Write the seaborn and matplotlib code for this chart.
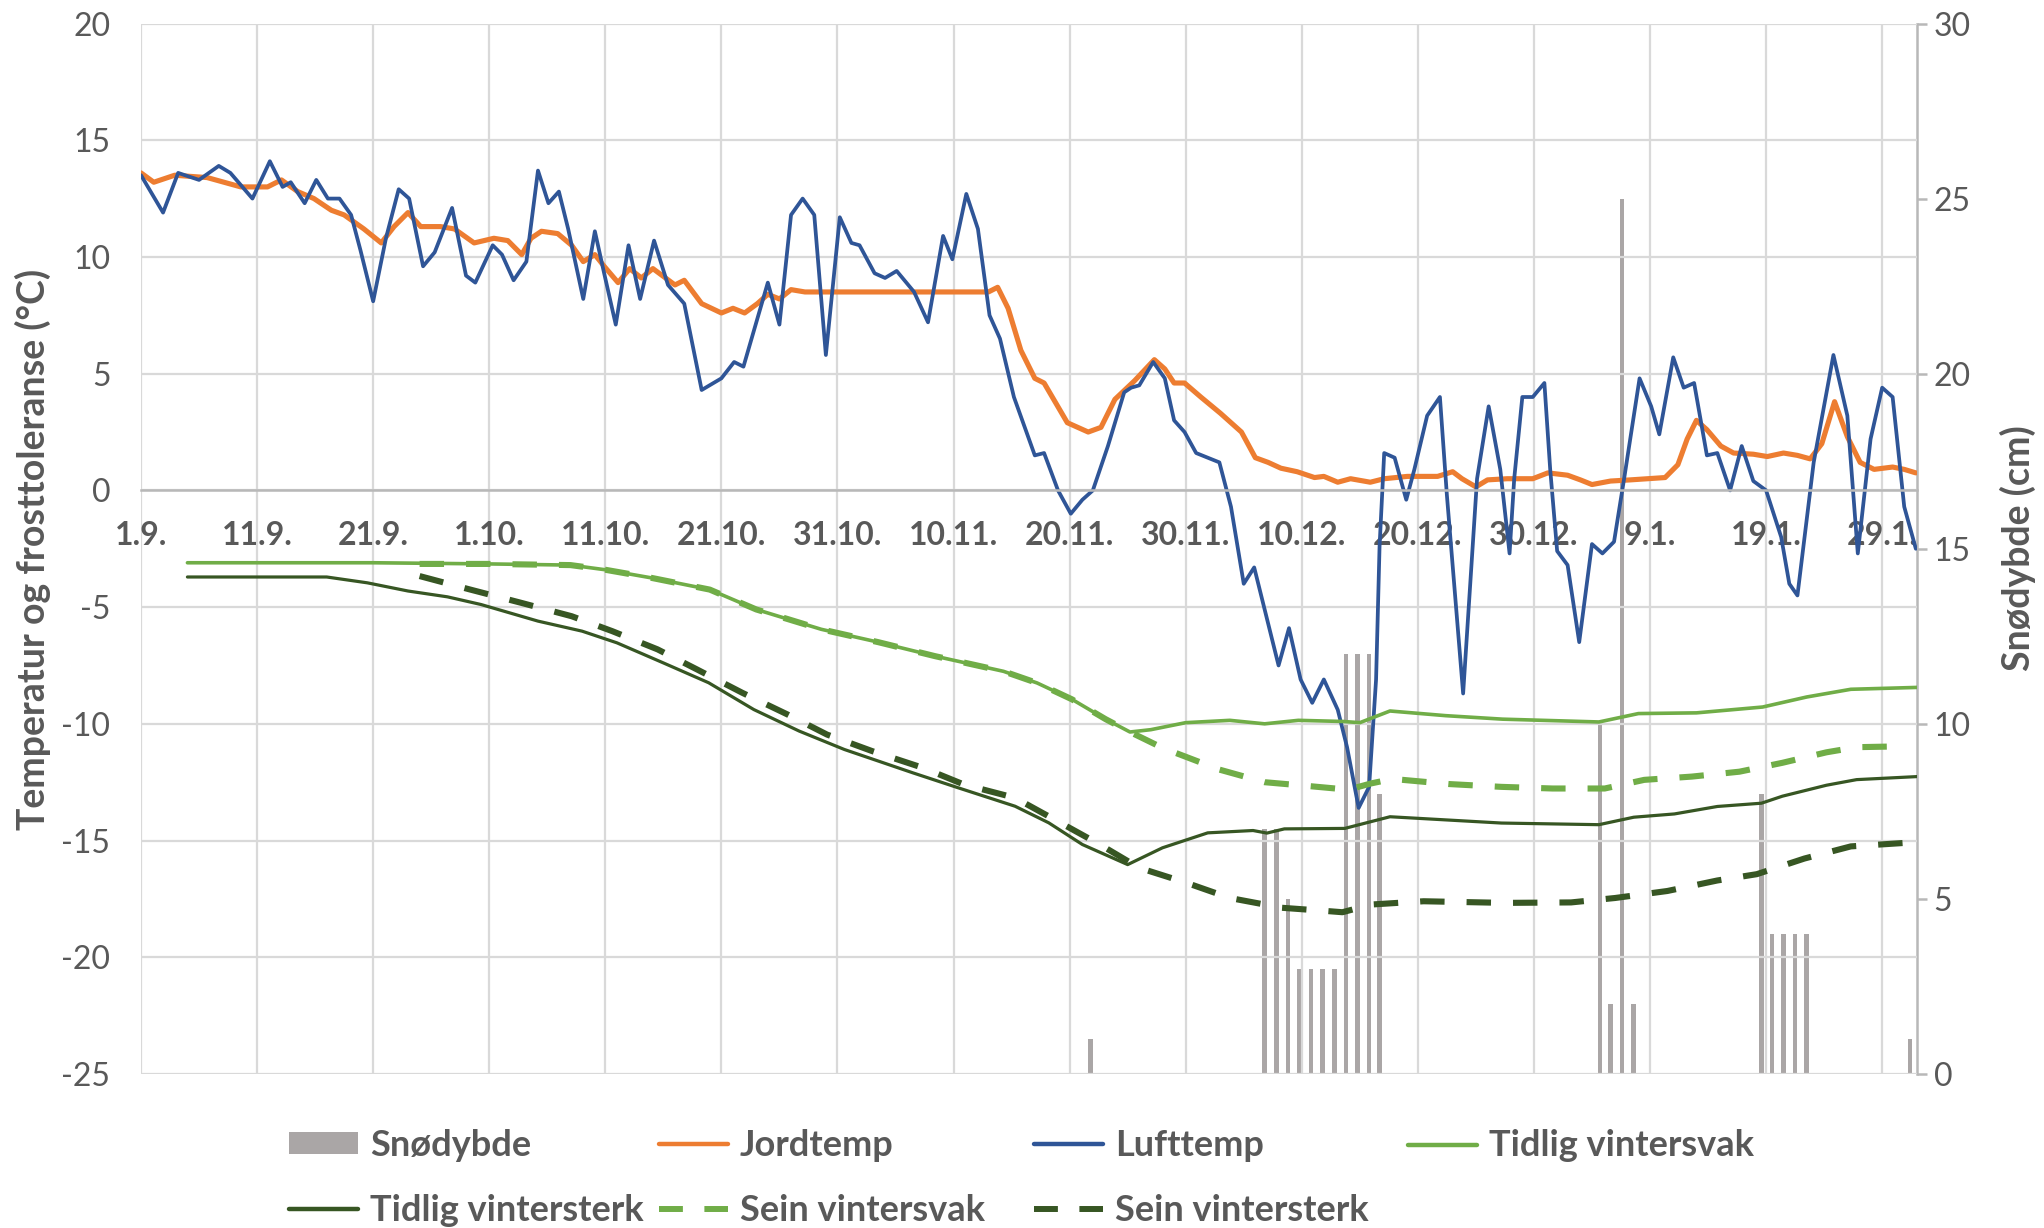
import matplotlib
matplotlib.use("Agg")
import matplotlib.pyplot as plt
import seaborn as sns
from matplotlib.lines import Line2D
from matplotlib.patches import Patch

# x axis: days after 1.9.
date_ticks = list(range(0, 151, 10))
date_labels = ["1.9.", "11.9.", "21.9.", "1.10.", "11.10.", "21.10.", "31.10.",
               "10.11.", "20.11.", "30.11.", "10.12.", "20.12.", "30.12.",
               "9.1.", "19.1.", "29.1."]

# snow depth (cm), secondary axis
snow_day = [81.8, 96.8, 97.8, 98.8, 99.8, 100.8, 101.8, 102.8, 103.8, 104.8,
            105.8, 106.7, 125.7, 126.6, 127.6, 128.6, 139.6, 140.5, 141.5,
            142.5, 143.5, 152.4]
snow_cm = [1, 7, 7, 5, 3, 3, 3, 3, 12, 12, 12, 8,
           10, 2, 25, 2, 8, 4, 4, 4, 4, 1]

# soil temperature
jord_day = [0.0, 1.1, 2.9, 5.7, 8.6, 10.9, 12.1, 13.5, 14.9, 16.4, 17.5, 19.2,
            20.7, 21.8, 23.0, 24.1, 25.8, 27.0, 28.7, 30.4, 31.6, 32.8, 33.6,
            34.5, 35.9, 37.1, 38.1, 39.1, 39.9, 41.1, 42.1, 43.1, 44.1, 46.0,
            46.8, 48.3, 50.0, 51.0, 52.0, 53.1, 54.0, 55.0, 56.0, 57.2, 73.0,
            73.8, 74.7, 75.8, 77.0, 77.8, 79.8, 81.6, 82.7, 83.9, 85.6, 87.3,
            88.2, 89.0, 89.9, 91.3, 93.0, 94.8, 96.0, 97.1, 98.2, 99.6, 101.1,
            101.9, 103.1, 104.2, 105.9, 107.1, 109.1, 111.7, 113.0, 113.8,
            115.0, 116.0, 117.7, 119.9, 121.2, 122.9, 124.0, 125.0, 126.6,
            128.3, 129.8, 131.3, 132.4, 133.2, 134.0, 134.9, 136.1, 137.2,
            138.9, 140.1, 141.5, 142.7, 143.8, 144.8, 145.9, 147.0, 148.1,
            149.3, 150.9, 151.9, 152.9]
jord_temp = [13.6, 13.2, 13.5, 13.4, 13.0, 13.0, 13.3, 12.8, 12.5, 12.0, 11.8,
             11.2, 10.6, 11.3, 11.9, 11.3, 11.3, 11.2, 10.6, 10.8, 10.7, 10.1,
             10.8, 11.1, 11.0, 10.5, 9.8, 10.1, 9.6, 8.9, 9.5, 9.1, 9.5, 8.8,
             9.0, 8.0, 7.6, 7.8, 7.6, 8.0, 8.4, 8.2, 8.6, 8.5, 8.5, 8.7, 7.8,
             6.0, 4.8, 4.6, 2.9, 2.5, 2.7, 3.9, 4.7, 5.6, 5.2, 4.6, 4.6, 4.0,
             3.3, 2.5, 1.4, 1.2, 0.95, 0.8, 0.55, 0.6, 0.35, 0.5, 0.35, 0.5,
             0.6, 0.6, 0.8, 0.5, 0.15, 0.45, 0.5, 0.5, 0.75, 0.65, 0.45, 0.25,
             0.4, 0.45, 0.5, 0.55, 1.1, 2.2, 3.0, 2.6, 1.9, 1.6, 1.55, 1.45,
             1.6, 1.5, 1.35, 2.0, 3.8, 2.3, 1.2, 0.9, 1.0, 0.9, 0.75]

# air temperature
luft_day = [0.0, 1.9, 3.2, 5.0, 6.7, 7.7, 9.6, 11.1, 12.2, 12.9, 14.1, 15.1,
            16.1, 17.1, 18.1, 18.9, 20.0, 21.1, 22.2, 23.1, 24.3, 25.3, 26.8,
            28.0, 28.8, 30.3, 31.1, 32.1, 33.2, 34.2, 35.1, 36.0, 36.8, 38.1,
            39.1, 39.9, 40.9, 42.0, 43.0, 44.2, 45.4, 46.8, 48.3, 50.0, 51.1,
            51.9, 54.0, 55.0, 56.0, 57.0, 58.0, 59.0, 60.2, 61.2, 61.9, 63.2,
            64.1, 65.1, 66.6, 67.8, 68.5, 69.1, 69.9, 71.1, 72.1, 73.1, 74.0,
            75.2, 77.0, 77.8, 79.0, 80.1, 81.1, 82.0, 83.3, 84.7, 85.3, 86.0,
            87.2, 88.2, 89.0, 89.9, 90.9, 91.9, 92.9, 93.9, 95.0, 95.9, 98.0,
            98.9, 99.9, 100.9, 101.9, 103.1, 103.9, 104.9, 105.8, 106.4, 106.7,
            107.1, 108.0, 109.0, 109.7, 110.8, 111.9, 112.5, 113.9, 115.1,
            116.1, 117.1, 117.9, 118.3, 119.0, 119.9, 120.9, 121.4, 122.0,
            122.9, 123.9, 125.0, 125.9, 126.9, 127.8, 129.1, 130.1, 130.8,
            132.0, 132.9, 133.8, 134.9, 135.8, 136.9, 137.9, 138.9, 140.0,
            141.3, 142.0, 142.7, 144.1, 145.8, 147.0, 147.9, 149.0, 150.0,
            150.9, 151.9, 152.9]
luft_temp = [13.5, 11.9, 13.6, 13.3, 13.9, 13.6, 12.5, 14.1, 13.0, 13.2, 12.3,
             13.3, 12.5, 12.5, 11.8, 10.3, 8.1, 10.8, 12.9, 12.5, 9.6, 10.2,
             12.1, 9.2, 8.9, 10.5, 10.1, 9.0, 9.8, 13.7, 12.3, 12.8, 11.2, 8.2,
             11.1, 9.3, 7.1, 10.5, 8.2, 10.7, 8.8, 8.0, 4.3, 4.8, 5.5, 5.3,
             8.9, 7.1, 11.8, 12.5, 11.8, 5.8, 11.7, 10.6, 10.5, 9.3, 9.1, 9.4,
             8.5, 7.2, 9.2, 10.9, 9.9, 12.7, 11.2, 7.5, 6.5, 4.0, 1.5, 1.6, 0.0,
             -1.0, -0.4, 0.0, 1.9, 4.2, 4.4, 4.5, 5.5, 4.8, 3.0, 2.5, 1.6, 1.4,
             1.2, -0.7, -4.0, -3.3, -7.5, -5.9, -8.1, -9.1, -8.1, -9.4, -11.0,
             -13.6, -12.7, -8.1, -2.4, 1.6, 1.4, -0.4, 0.9, 3.2, 4.0, -0.2,
             -8.7, 0.5, 3.6, 0.9, -2.7, 0.5, 4.0, 4.0, 4.6, 0.9, -2.6, -3.2,
             -6.5, -2.3, -2.7, -2.2, 0.6, 4.8, 3.6, 2.4, 5.7, 4.4, 4.6, 1.5,
             1.6, 0.0, 1.9, 0.4, 0.0, -2.0, -4.0, -4.5, 1.2, 5.8, 3.2, -2.7,
             2.2, 4.4, 4.0, -0.7, -2.5]

# frost tolerance, early / weak
tsvak_day = [4, 20, 30, 37, 40, 44, 49, 53, 58.6, 63.5, 68.4, 74.3, 77.2,
             80.2, 83.1, 85.2, 87.0, 90.0, 93.8, 96.8, 99.7, 103.6, 105.0,
             107.6, 112.4, 117.3, 125.6, 129.0, 134.0, 139.7, 143.5, 147.3,
             153.0]
tsvak_temp = [-3.1, -3.1, -3.15, -3.2, -3.4, -3.75, -4.25, -5.1, -5.95, -6.5,
              -7.1, -7.75, -8.25, -8.95, -9.8, -10.35, -10.25, -9.95, -9.85,
              -10.0, -9.85, -9.9, -9.95, -9.45, -9.65, -9.8, -9.92, -9.56,
              -9.53, -9.28, -8.85, -8.52, -8.44]

# early / strong
tsterk_day = [4, 16, 19.5, 23, 26.4, 29.3, 34.2, 38, 41, 45, 48.9, 52.8, 56.7,
              60.6, 66.5, 70.4, 75.3, 78.2, 81.1, 85.0, 88.0, 91.9, 95.8, 97.0,
              98.5, 103.7, 107.6, 117.2, 125.6, 128.6, 132.1, 135.8, 139.6,
              141.4, 145.2, 147.8, 153.0]
tsterk_temp = [-3.71, -3.71, -3.96, -4.31, -4.56, -4.89, -5.6, -6.03, -6.53,
               -7.39, -8.24, -9.39, -10.31, -11.1, -12.1, -12.74, -13.53,
               -14.24, -15.17, -16.03, -15.31, -14.67, -14.57, -14.68, -14.5,
               -14.48, -13.98, -14.25, -14.32, -14.0, -13.86, -13.54, -13.4,
               -13.1, -12.63, -12.39, -12.26]

# late / weak
ssvak_day = [24, 30, 37, 40, 44, 49, 53, 58.6, 63.5, 68.4, 74.3, 77.2, 80.2,
             83.1, 85.2, 88.0, 92.9, 96.8, 100.7, 104.0, 106.0, 107.8, 112.7,
             117.2, 121.6, 126.1, 129.5, 133.6, 137.7, 141.4, 145.2, 147.8,
             151.1]
ssvak_temp = [-3.15, -3.15, -3.2, -3.4, -3.75, -4.25, -5.1, -5.95, -6.5, -7.1,
              -7.75, -8.25, -8.95, -9.8, -10.35, -11.03, -11.96, -12.5,
              -12.67, -12.82, -12.55, -12.36, -12.58, -12.7, -12.77, -12.77,
              -12.4, -12.26, -12.05, -11.67, -11.22, -11.0, -10.97]

# late / strong
ssterk_day = [24, 28.3, 32.7, 37.1, 40.6, 44.5, 47.9, 51.8, 55.7, 59.1, 63,
              67.4, 70.9, 75.3, 78.7, 82.6, 86, 90, 93.8, 98.3, 102.2, 103.5,
              106.0, 110.5, 117.5, 123.2, 127.0, 131.5, 135.8, 139.2, 143.3,
              147.3, 152.6]
ssterk_temp = [-3.67, -4.24, -4.81, -5.39, -6.03, -6.81, -7.67, -8.67, -9.6,
               -10.46, -11.17, -11.89, -12.6, -13.17, -14.1, -15.17, -16.17,
               -16.8, -17.46, -17.88, -18.02, -18.07, -17.74, -17.6, -17.67,
               -17.65, -17.46, -17.16, -16.71, -16.44, -15.77, -15.25, -15.08]

sns.set_theme(style="white")
plt.rcParams["font.family"] = ["Lato", "DejaVu Sans"]
plt.rcParams["axes.unicode_minus"] = False

TXT = "#595959"
GRID = "#d9d9d9"
AXIS = "#b8b8b8"
C_SNOW = "#aaa6a6"
C_JORD = "#ed7d31"
C_LUFT = "#2f5597"
C_SVAK = "#70ad47"
C_STERK = "#375623"
DASH = (0, (4.0, 3.6))

W, H = 2044, 1228
fig = plt.figure(figsize=(W / 100, H / 100), dpi=100)
ax = fig.add_axes([141 / W, 154 / H, 1776 / W, 1050.5 / H])
ax2 = ax.twinx()

# snow bars on the secondary axis, behind the lines
ax2.bar(snow_day, snow_cm, width=0.4, color=C_SNOW, linewidth=0)
ax2.set_ylim(0, 30)
ax2.set_yticks(range(0, 31, 5))
ax.set_zorder(ax2.get_zorder() + 1)
ax.patch.set_visible(False)

line_kw = dict(ax=ax, errorbar=None, solid_joinstyle="round")
sns.lineplot(x=jord_day, y=jord_temp, color=C_JORD, linewidth=3.7, **line_kw)
sns.lineplot(x=luft_day, y=luft_temp, color=C_LUFT, linewidth=2.7, **line_kw)
sns.lineplot(x=tsvak_day, y=tsvak_temp, color=C_SVAK, linewidth=2.6, **line_kw)
sns.lineplot(x=tsterk_day, y=tsterk_temp, color=C_STERK, linewidth=2.3, **line_kw)
sns.lineplot(x=ssvak_day, y=ssvak_temp, color=C_SVAK, linewidth=4.4,
             linestyle=DASH, **line_kw)
sns.lineplot(x=ssterk_day, y=ssterk_temp, color=C_STERK, linewidth=4.4,
             linestyle=DASH, **line_kw)

ax.set_xlim(0, 153)
ax.set_ylim(-25, 20)
ax.set_yticks(range(-25, 21, 5))
ax.set_xticks(date_ticks)
ax.set_xticklabels(date_labels)
ax.set_xlabel("")
ax.set_ylabel("")
ax.grid(True, color=GRID, linewidth=1.6)
ax.set_axisbelow(True)

for side in ["left", "top", "right"]:
    ax.spines[side].set_visible(False)
ax.spines["bottom"].set_position(("data", 0))
ax.spines["bottom"].set_color(AXIS)
ax.spines["bottom"].set_linewidth(1.8)
for side in ["left", "top", "bottom"]:
    ax2.spines[side].set_visible(False)
ax2.spines["right"].set_color(AXIS)
ax2.spines["right"].set_linewidth(1.8)

ax.tick_params(axis="x", length=0, pad=22, labelsize=23, labelcolor=TXT)
for lbl in ax.get_xticklabels():
    lbl.set_fontweight("bold")
ax.tick_params(axis="y", length=0, pad=22, labelsize=23, labelcolor=TXT)
ax2.tick_params(axis="y", length=7, width=1.8, color=AXIS, pad=5,
                labelsize=23, labelcolor=TXT, direction="out")

fig.text(33 / W, 1 - 549 / H, "Temperatur og frosttoleranse (°C)", rotation=90,
         ha="center", va="center", fontsize=27, fontweight="bold", color=TXT)
fig.text(2018 / W, 1 - 548 / H, "Snødybde (cm)", rotation=90,
         ha="center", va="center", fontsize=27, fontweight="bold", color=TXT)

# legend, laid out as four columns like the original
h_snow = Patch(facecolor=C_SNOW, edgecolor="none")
h_jord = Line2D([], [], color=C_JORD, lw=3.2)
h_luft = Line2D([], [], color=C_LUFT, lw=3.2)
h_tsvak = Line2D([], [], color=C_SVAK, lw=3.2)
h_tsterk = Line2D([], [], color=C_STERK, lw=3.2)
h_ssvak = Line2D([], [], color=C_SVAK, lw=4.3, linestyle=DASH)
h_ssterk = Line2D([], [], color=C_STERK, lw=4.3, linestyle=DASH)

columns = [
    ([h_snow, h_tsterk], ["Snødybde", "Tidlig vintersterk"], 289, 1178),
    ([h_jord, h_ssvak], ["Jordtemp", "Sein vintersvak"], 659, 1178),
    ([h_luft, h_ssterk], ["Lufttemp", "Sein vintersterk"], 1034, 1178),
    ([h_tsvak], ["Tidlig vintersvak"], 1408, 1146),
]
for handles, labels, xpx, ypx in columns:
    fig.legend(handles, labels, loc="center left",
               bbox_to_anchor=(xpx / W, 1 - ypx / H), frameon=False,
               borderpad=0, borderaxespad=0, handlelength=1.91,
               handleheight=0.55, handletextpad=0.33, labelspacing=0.88,
               prop={"weight": "bold", "size": 26}, labelcolor=TXT)

fig.savefig("out.png", dpi=100)
